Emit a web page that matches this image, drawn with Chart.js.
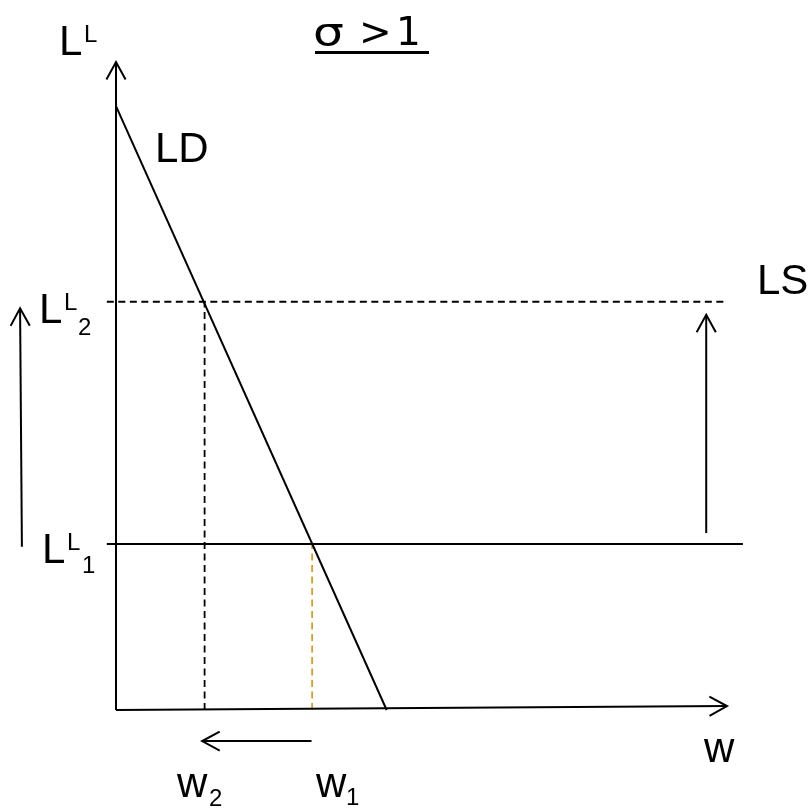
<!DOCTYPE html>
<html>
<head>
<meta charset="utf-8">
<script src="https://cdn.jsdelivr.net/npm/chart.js@4.4.1/dist/chart.umd.min.js"></script>
<style>
  html, body { margin: 0; padding: 0; background: #fff; }
  #wrap { width: 811px; height: 808px; }
</style>
</head>
<body>
<div id="wrap"><canvas id="chart" width="811" height="808"></canvas></div>
<script>
// wage on x (0..10), labour L^L on y (0..10)
const axisX = [0, 10];
const axisY = [0, 10];
const ldWage = [0, 4.43];        // labour demand line
const ldLabour = [9.32, 0];
const lsLevels = [2.56, 6.30];   // LL1, LL2
const lsEnds = [10.26, 10];      // right end of each LS line
const wages = [3.21, 1.45];      // w1, w2
const upShift = [2.73, 6.10];    // arrow LL1 -> LL2 (at wage 9.66)
const upShiftAt = 9.66;
const leftShift = [3.20, 1.41];  // arrow w1 -> w2 (below axis)
const leftShiftAt = -0.48;
const sideShiftX = [-1.54, -1.57];
const sideShiftY = [2.52, 6.20];

const pts = (xs, ys) => xs.map((x, i) => ({ x: x, y: ys[i] }));

const black = "#000";
const orange = "#d9a01a";
const dash = [7, 4.5];

function line(data, opts) {
  return Object.assign({
    data: data,
    showLine: true,
    borderColor: black,
    borderWidth: 2,
    pointRadius: 0,
    clip: false,
    fill: false,
  }, opts || {});
}

const datasets = [
  // axes
  line(pts([0, 0], axisY), { arrowHead: true }),
  line(pts(axisX, [0, 0.06]), { arrowHead: true }),
  // LD
  line(pts(ldWage, ldLabour)),
  // LS1 solid, LS2 dashed
  line(pts([-0.15, lsEnds[0]], [lsLevels[0], lsLevels[0]])),
  line(pts([-0.15, lsEnds[1]], [lsLevels[1], lsLevels[1]]), { borderDash: dash, borderWidth: 1.8 }),
  // drop lines
  line(pts([wages[1], wages[1]], [0, lsLevels[1]]), { borderDash: dash, borderWidth: 1.8 }),
  line(pts([wages[0], wages[0]], [0, lsLevels[0]]), { borderDash: dash, borderWidth: 1.8, borderColor: orange }),
  // shift arrows
  line(pts([upShiftAt, upShiftAt], upShift), { arrowHead: true }),
  line(pts(leftShift, [leftShiftAt, leftShiftAt]), { arrowHead: true }),
  line(pts(sideShiftX, sideShiftY), { arrowHead: true }),
];

const arrowPlugin = {
  id: "arrowHeads",
  afterDatasetsDraw(chart) {
    const ctx = chart.ctx;
    chart.data.datasets.forEach((ds, i) => {
      if (!ds.arrowHead) return;
      const el = chart.getDatasetMeta(i).data;
      const a = el[el.length - 2], b = el[el.length - 1];
      const ang = Math.atan2(b.y - a.y, b.x - a.x);
      const len = 20, spread = 0.5;
      ctx.save();
      ctx.strokeStyle = ds.borderColor;
      ctx.lineWidth = 2;
      ctx.beginPath();
      ctx.moveTo(b.x - len * Math.cos(ang - spread), b.y - len * Math.sin(ang - spread));
      ctx.lineTo(b.x, b.y);
      ctx.lineTo(b.x - len * Math.cos(ang + spread), b.y - len * Math.sin(ang + spread));
      ctx.stroke();
      ctx.restore();
    });
  },
};

// text pieces: [text, left, baseline, size]
const texts = [
  ["L", 59, 55, 42], ["L", 84, 42, 24],
  ["LD", 155, 162, 42],
  ["L", 39, 323, 42], ["L", 64, 310, 24], ["2", 78, 335, 24],
  ["L", 42, 563, 42], ["L", 67, 550, 24], ["1", 82, 573, 24],
  ["LS", 757, 294, 42],
  ["w", 704, 762, 42],
  ["w", 177, 797, 42], ["2", 209, 806, 24],
  ["w", 316, 797, 42], ["1", 346, 805, 24],
];
// title glyphs: [text, left, horizontal stretch]
const title = [["σ", 313, 1.25], [">", 359, 1], ["1", 396, 1]];

const labelPlugin = {
  id: "labels",
  afterDraw(chart) {
    const ctx = chart.ctx;
    ctx.save();
    ctx.fillStyle = black;
    ctx.textBaseline = "alphabetic";
    ctx.textAlign = "left";
    texts.forEach(([t, x, y, s]) => {
      ctx.font = s + "px 'Liberation Sans', Arial, sans-serif";
      ctx.fillText(t, x, y);
    });
    // title, underlined
    ctx.font = "39px 'DejaVu Sans', sans-serif";
    title.forEach(([t, x, sx]) => {
      ctx.save();
      ctx.translate(x, 45);
      ctx.scale(sx, 1);
      ctx.fillText(t, 0, 0);
      ctx.restore();
    });
    ctx.fillRect(315, 51, 114, 3);
    ctx.restore();
  },
};

new Chart(document.getElementById("chart"), {
  type: "scatter",
  data: { datasets: datasets },
  options: {
    responsive: false,
    animation: false,
    events: [],
    layout: { padding: { left: 116, right: 84, top: 62, bottom: 98 } },
    plugins: { legend: { display: false }, tooltip: { enabled: false } },
    scales: {
      x: { type: "linear", min: 0, max: 10, display: false },
      y: { type: "linear", min: 0, max: 10, display: false },
    },
  },
  plugins: [arrowPlugin, labelPlugin],
});
</script>
</body>
</html>
